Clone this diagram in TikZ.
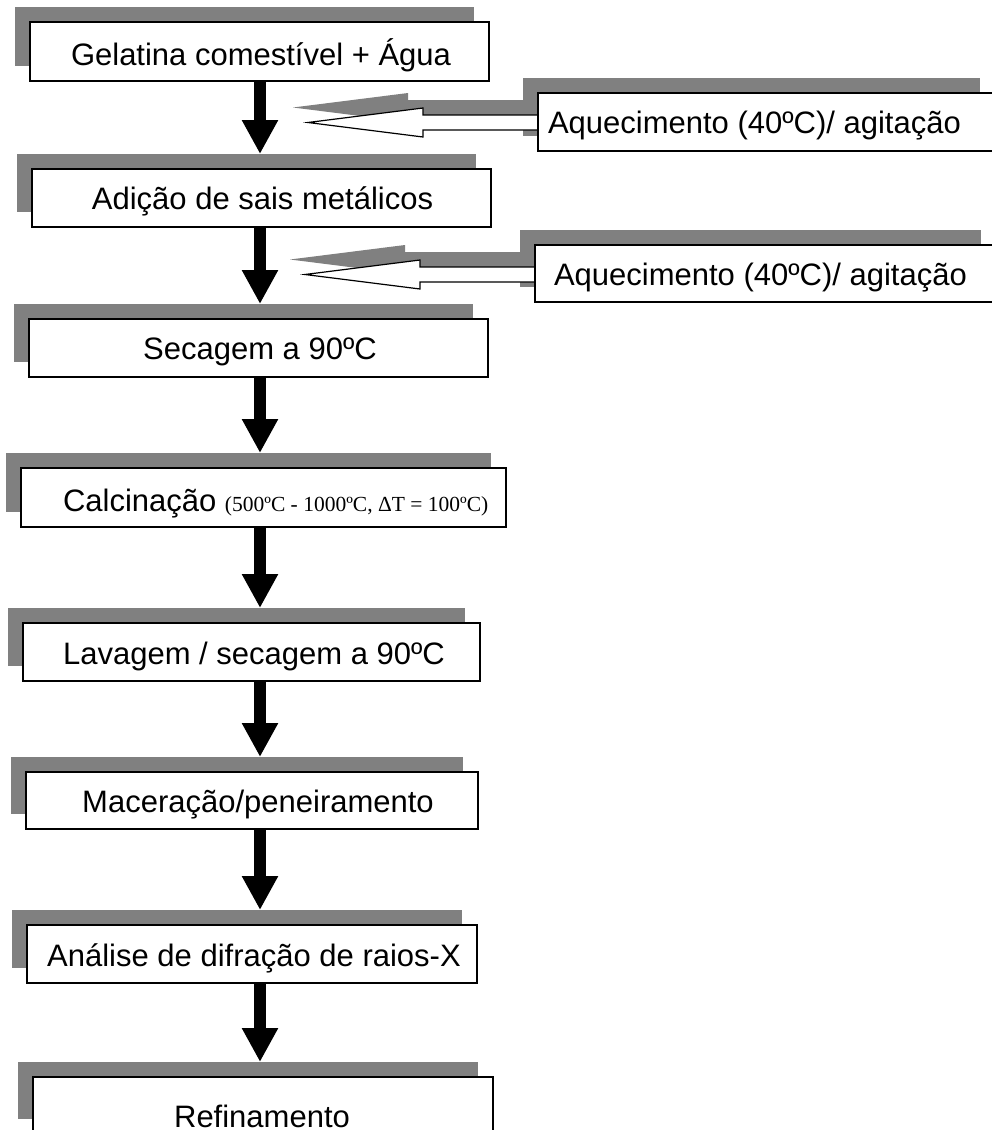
\documentclass[tikz,border=0pt]{standalone}
\usepackage{fontspec}
\setmainfont{Liberation Sans}
\newfontfamily\timesfont{Liberation Serif}
\usetikzlibrary{arrows.meta,calc}
\definecolor{shadowgray}{HTML}{808080}
% outline of a hollow left-pointing block arrow, starting at the west side of a node
\newcommand\hollowpath[3]{($(#1.west)+(#2,#3)+(0,-7.5)$) -- ++(-115,0) -- ++(0,-7) -- ++(-115,14.5) -- ++(115,14.5) -- ++(0,-7) -- ++(115,0)}
% box with its shadow: name, cx, cy, width, height
\newcommand\stepnode[5]{%
  \node[shadowbox, minimum width=#4pt, minimum height=#5pt] (#1s) at (#2-15,#3-15) {};
  \node[stepbox, minimum width=#4pt, minimum height=#5pt] (#1) at (#2,#3) {};}
\begin{document}
\begin{tikzpicture}[x=1pt,y=-1pt,
  shadowbox/.style={rectangle, fill=shadowgray, draw=none, inner sep=0pt, outer sep=0pt},
  stepbox/.style={rectangle, draw=black, fill=white, line width=1.2pt, inner sep=0pt, outer sep=0pt},
  lbl/.style={anchor=base, inner sep=0pt, outer sep=0pt, font=\fontsize{31}{31}\selectfont},
  downarrow/.style={line width=12pt, -{Triangle[width=34pt,length=34pt]}},
  hollow/.style={draw=black, line width=1.2pt, line join=miter},
]
\useasboundingbox (0,0) rectangle (992,1130);
\clip (0,0) rectangle (992,1130);
\fill[white] (0,0) rectangle (992,1130);

% main column
\stepnode{b1}{259.5}{51.5}{459}{59}
\stepnode{b2}{261.5}{198}{459}{58}
\stepnode{b3}{258.5}{348}{459}{58}
\stepnode{b4}{263.5}{497.5}{485}{59}
\stepnode{b5}{251.5}{652}{457}{58}
\stepnode{b6}{252}{800.5}{452}{57}
\stepnode{b7}{252}{954}{450}{58}
\stepnode{b8}{263}{1105.5}{460}{57}

% side boxes: shadows, arrow shadows, hollow arrows, then boxes
\node[shadowbox, minimum width=457pt, minimum height=58pt] (r1s) at (751.5,107) {};
\node[shadowbox, minimum width=461pt, minimum height=57pt] (r2s) at (750.5,258.5) {};
\fill[shadowgray] \hollowpath{r1s}{0}{0.5} -- cycle;
\fill[shadowgray] \hollowpath{r2s}{0}{1} -- cycle;
\fill[white] \hollowpath{r1s}{15}{15.5} -- cycle;
\draw[hollow] \hollowpath{r1s}{15}{15.5};
\fill[white] \hollowpath{r2s}{15}{16} -- cycle;
\draw[hollow] \hollowpath{r2s}{15}{16};
\node[stepbox, minimum width=457pt, minimum height=58pt] (r1) at (766.5,122) {};
\node[stepbox, minimum width=461pt, minimum height=57pt] (r2) at (765.5,273.5) {};

% labels
\node[lbl] (t1) at (261,65) {Gelatina comestível + Água};
\node[lbl] (t2) at (262.5,209) {Adição de sais metálicos};
\node[lbl] (t3) at (260,359) {Secagem a 90ºC};
\node[lbl, anchor=base west] (t4) at (63,511) {Calcinação {\timesfont\fontsize{21.5}{21.5}\selectfont (500ºC - 1000ºC, ΔT = 100ºC)}};
\node[lbl] (t5) at (254,664) {Lavagem / secagem a 90ºC};
\node[lbl] (t6) at (258,812) {Maceração/peneiramento};
\node[lbl] (t7) at (254,966) {Análise de difração de raios-X};
\node[lbl] (t8) at (262,1127) {Refinamento};
\node[lbl, anchor=base west] (tr1) at (548,133) {Aquecimento (40ºC)/ agitação};
\node[lbl, anchor=base west] (tr2) at (554,285) {Aquecimento (40ºC)/ agitação};

% black block arrows
\coordinate (ax) at (260,0);
\draw[downarrow] (b1.south -| ax) -- (b2s.north -| ax);
\draw[downarrow] (b2.south -| ax) -- (b3s.north -| ax);
\draw[downarrow] (b3.south -| ax) -- (b4s.north -| ax);
\draw[downarrow] (b4.south -| ax) -- (b5s.north -| ax);
\draw[downarrow] (b5.south -| ax) -- (b6s.north -| ax);
\draw[downarrow] (b6.south -| ax) -- (b7s.north -| ax);
\draw[downarrow] (b7.south -| ax) -- (b8s.north -| ax);
\end{tikzpicture}
\end{document}
